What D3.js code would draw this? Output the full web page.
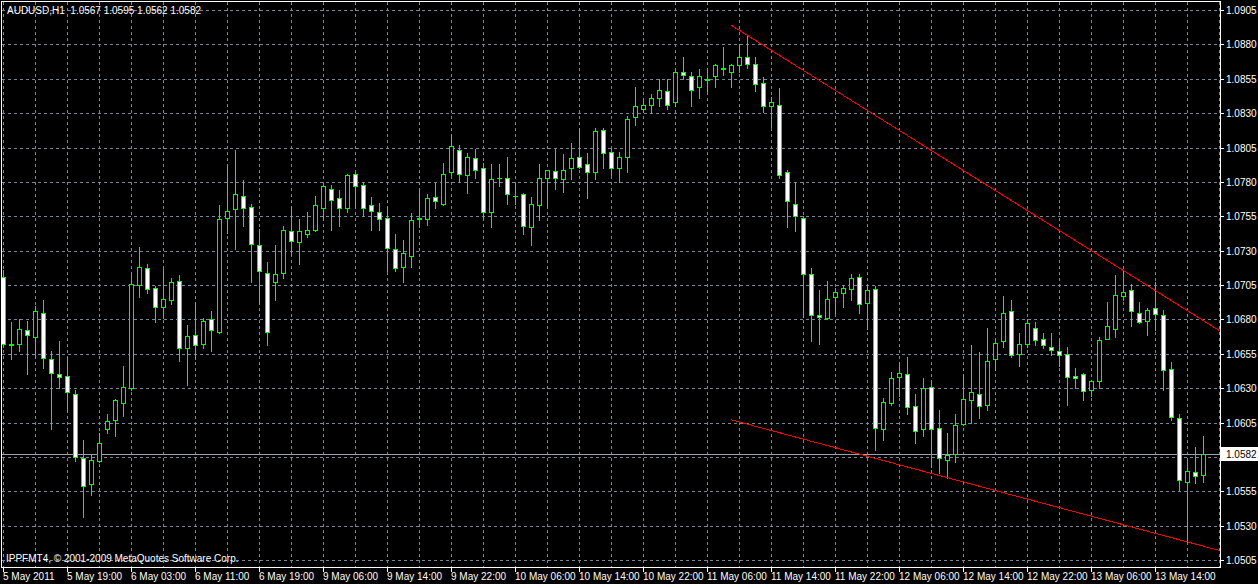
<!DOCTYPE html>
<html><head><meta charset="utf-8">
<script src="https://cdn.jsdelivr.net/npm/d3@7"></script>
<style>html,body{margin:0;padding:0;background:#000;overflow:hidden}svg{display:block}</style>
</head><body>
<script>
const titleText = "AUDUSD,H1  1.0567 1.0595 1.0562 1.0582";
const copyrightText = "IPPFMT4, \u00A9 2001-2009 MetaQuotes Software Corp.";

const opens = [1.0711,1.0662,1.0662,1.0672,1.0667,1.0685,1.0651,1.0640,1.0639,1.0626,
1.0579,1.0560,1.0577,1.0600,1.0607,1.0619,1.0630,1.0705,1.0717,1.0703,
1.0689,1.0694,1.0708,1.0659,1.0669,1.0662,1.0680,1.0671,1.0754,1.0760,
1.0770,1.0762,1.0734,1.0714,1.0707,1.0714,1.0744,1.0736,1.0742,1.0745,
1.0761,1.0775,1.0768,1.0761,1.0786,1.0778,1.0763,1.0758,1.0754,1.0731,
1.0718,1.0726,1.0753,1.0753,1.0769,1.0764,1.0787,1.0803,1.0785,1.0797,
1.0790,1.0758,1.0783,1.0783,1.0770,1.0771,1.0747,1.0763,1.0783,1.0788,
1.0782,1.0790,1.0798,1.0793,1.0787,1.0818,1.0802,1.0790,1.0798,1.0827,
1.0833,1.0836,1.0841,1.0846,1.0838,1.0860,1.0857,1.0849,1.0854,1.0857,
1.0863,1.0860,1.0865,1.0871,1.0866,1.0852,1.0835,1.0836,1.0787,1.0764,
1.0754,1.0713,1.0683,1.0681,1.0696,1.0699,1.0702,1.0711,1.0692,1.0702,
1.0600,1.0619,1.0638,1.0640,1.0617,1.0600,1.0631,1.0601,1.0578,1.0582,
1.0604,1.0621,1.0626,1.0618,1.0651,1.0664,1.0686,1.0655,1.0662,1.0674,
1.0666,1.0660,1.0657,1.0655,1.0639,1.0640,1.0629,1.0635,1.0666,1.0673,
1.0697,1.0701,1.0685,1.0679,1.0688,1.0683,1.0644,1.0608,1.0562,1.0569,
1.0567];
const highs = [1.0716,1.0678,1.0680,1.0679,1.0690,1.0694,1.0657,1.0664,1.0653,1.0629,
1.0592,1.0582,1.0597,1.0611,1.0622,1.0646,1.0714,1.0733,1.0720,1.0704,
1.0718,1.0710,1.0712,1.0676,1.0693,1.0681,1.0686,1.0763,1.0792,1.0803,
1.0781,1.0764,1.0746,1.0722,1.0734,1.0748,1.0762,1.0753,1.0758,1.0770,
1.0778,1.0778,1.0774,1.0786,1.0787,1.0780,1.0769,1.0765,1.0762,1.0742,
1.0738,1.0757,1.0775,1.0771,1.0779,1.0794,1.0815,1.0807,1.0801,1.0804,
1.0794,1.0793,1.0793,1.0798,1.0779,1.0772,1.0769,1.0793,1.0789,1.0804,
1.0800,1.0808,1.0819,1.0801,1.0819,1.0819,1.0804,1.0802,1.0828,1.0849,
1.0841,1.0844,1.0855,1.0855,1.0863,1.0871,1.0860,1.0862,1.0863,1.0866,
1.0878,1.0866,1.0880,1.0887,1.0871,1.0856,1.0842,1.0848,1.0789,1.0780,
1.0755,1.0717,1.0701,1.0708,1.0703,1.0705,1.0713,1.0713,1.0705,1.0704,
1.0623,1.0642,1.0649,1.0653,1.0626,1.0637,1.0636,1.0614,1.0597,1.0611,
1.0640,1.0661,1.0656,1.0674,1.0666,1.0697,1.0694,1.0670,1.0680,1.0678,
1.0670,1.0670,1.0666,1.0660,1.0645,1.0641,1.0636,1.0667,1.0693,1.0712,
1.0715,1.0706,1.0693,1.0688,1.0707,1.0687,1.0649,1.0611,1.0579,1.0587,
1.0595];
const lows = [1.0660,1.0651,1.0657,1.0640,1.0652,1.0645,1.0600,1.0630,1.0613,1.0577,
1.0536,1.0552,1.0576,1.0597,1.0595,1.0610,1.0629,1.0696,1.0699,1.0678,
1.0681,1.0691,1.0650,1.0632,1.0651,1.0659,1.0657,1.0670,1.0743,1.0731,
1.0748,1.0707,1.0691,1.0661,1.0694,1.0710,1.0727,1.0720,1.0740,1.0744,
1.0752,1.0745,1.0748,1.0758,1.0761,1.0755,1.0745,1.0745,1.0715,1.0715,
1.0707,1.0718,1.0747,1.0749,1.0761,1.0763,1.0785,1.0780,1.0772,1.0783,
1.0752,1.0747,1.0777,1.0764,1.0764,1.0742,1.0734,1.0752,1.0761,1.0775,
1.0773,1.0782,1.0790,1.0768,1.0782,1.0790,1.0785,1.0780,1.0787,1.0821,
1.0831,1.0830,1.0835,1.0833,1.0835,1.0855,1.0835,1.0841,1.0846,1.0849,
1.0858,1.0849,1.0860,1.0863,1.0846,1.0831,1.0820,1.0783,1.0747,1.0744,
1.0682,1.0664,1.0662,1.0680,1.0685,1.0689,1.0694,1.0685,1.0673,1.0585,
1.0592,1.0618,1.0624,1.0611,1.0590,1.0595,1.0573,1.0568,1.0565,1.0576,
1.0603,1.0605,1.0608,1.0614,1.0643,1.0660,1.0653,1.0646,1.0660,1.0661,
1.0659,1.0654,1.0646,1.0618,1.0630,1.0621,1.0624,1.0630,1.0666,1.0667,
1.0694,1.0675,1.0677,1.0669,1.0672,1.0629,1.0607,1.0556,1.0518,1.0561,
1.0562];
const closes = [1.0662,1.0661,1.0673,1.0669,1.0686,1.0652,1.0641,1.0638,1.0627,1.0580,
1.0559,1.0578,1.0590,1.0606,1.0621,1.0631,1.0706,1.0718,1.0702,1.0689,
1.0695,1.0707,1.0659,1.0668,1.0661,1.0679,1.0672,1.0753,1.0759,1.0771,
1.0761,1.0735,1.0715,1.0671,1.0713,1.0745,1.0737,1.0744,1.0745,1.0763,
1.0777,1.0767,1.0761,1.0785,1.0777,1.0761,1.0759,1.0753,1.0732,1.0717,
1.0728,1.0752,1.0754,1.0768,1.0766,1.0786,1.0806,1.0786,1.0798,1.0789,
1.0758,1.0782,1.0783,1.0771,1.0770,1.0748,1.0764,1.0783,1.0789,1.0783,
1.0789,1.0797,1.0791,1.0787,1.0817,1.0801,1.0790,1.0798,1.0826,1.0835,
1.0836,1.0841,1.0847,1.0836,1.0860,1.0858,1.0847,1.0857,1.0855,1.0865,
1.0862,1.0865,1.0871,1.0866,1.0851,1.0835,1.0838,1.0785,1.0766,1.0755,
1.0713,1.0683,1.0682,1.0695,1.0700,1.0703,1.0710,1.0691,1.0701,1.0601,
1.0620,1.0637,1.0641,1.0616,1.0599,1.0630,1.0600,1.0579,1.0581,1.0603,
1.0622,1.0627,1.0617,1.0650,1.0663,1.0685,1.0654,1.0662,1.0677,1.0665,
1.0661,1.0658,1.0654,1.0638,1.0637,1.0628,1.0635,1.0665,1.0675,1.0698,
1.0700,1.0686,1.0678,1.0687,1.0684,1.0643,1.0609,1.0563,1.0570,1.0566,
1.0582];

const timeLabelBars = [0,8,16,24,32,40,48,56,64,72,80,88,96,104,112,120,128,136,144];
const timeLabels = ["5 May 2011","5 May 19:00","6 May 03:00","6 May 11:00","6 May 19:00",
"9 May 06:00","9 May 14:00","9 May 22:00","10 May 06:00","10 May 14:00","10 May 22:00",
"11 May 06:00","11 May 14:00","11 May 22:00","12 May 06:00","12 May 14:00","12 May 22:00",
"13 May 06:00","13 May 14:00"];
const priceTicks = [1.0905,1.0880,1.0855,1.0830,1.0805,1.0780,1.0755,1.0730,1.0705,1.0680,
1.0655,1.0630,1.0605,1.0580,1.0555,1.0530,1.0505];
const gridBars = [0,4,8,12,16,20,24,28,32,36,40,44,48,52,56,60,64,68,72,76,80,84,88,92,96,
100,104,108,112,116,120,124,128,132,136,140,144,148,152];
const trendUpper = [[91, 1.0894], [152, 1.0672]];
const trendLower = [[91, 1.0607], [152, 1.0512]];
const lastPrice = 1.0582;

const W = 1258, H = 584;
const P = {left: 2, top: 2, right: 1220, bottom: 567};
const x = d3.scaleLinear().domain([0, 150]).range([3, 1203]);
const y = d3.scaleLinear().domain([1.0505, 1.0905]).range([560, 10]);
const font = "'Liberation Sans', Arial, sans-serif";
const GREEN = "#00ff00", GRID = "#778899";

const svg = d3.select("body").append("svg").attr("width", W).attr("height", H)
  .style("background", "#000");
svg.append("defs").append("clipPath").attr("id", "clip").append("rect")
  .attr("x", P.left).attr("y", P.top).attr("width", P.right - P.left).attr("height", P.bottom - P.top);

const px = v => Math.round(v) + 0.5;

// grid
const grid = svg.append("g").attr("clip-path", "url(#clip)")
  .attr("stroke", GRID).attr("stroke-width", 1).attr("stroke-dasharray", "3,3")
  .attr("shape-rendering", "crispEdges");
grid.selectAll("line.h").data(priceTicks).join("line").attr("class", "h")
  .attr("x1", P.left).attr("x2", P.right).attr("y1", d => px(y(d))).attr("y2", d => px(y(d)));
grid.selectAll("line.v").data(gridBars).join("line").attr("class", "v")
  .attr("y1", P.top).attr("y2", P.bottom).attr("x1", d => px(x(d))).attr("x2", d => px(x(d)));

// last price line
svg.append("line").attr("x1", P.left).attr("x2", P.right)
  .attr("y1", px(y(lastPrice))).attr("y2", px(y(lastPrice)))
  .attr("stroke", "#9aa3ad").attr("shape-rendering", "crispEdges");

// candles
const bars = d3.range(opens.length);
const cg = svg.append("g").attr("clip-path", "url(#clip)").attr("shape-rendering", "crispEdges");
cg.selectAll("line.wick").data(bars).join("line").attr("class", "wick")
  .attr("x1", i => Math.round(x(i)) + 0.5).attr("x2", i => Math.round(x(i)) + 0.5)
  .attr("y1", i => Math.round(y(highs[i]))).attr("y2", i => Math.round(y(lows[i])) + 1)
  .attr("stroke", GREEN);
const bodyTop = i => Math.round(y(Math.max(opens[i], closes[i])));
const bodyBot = i => Math.round(y(Math.min(opens[i], closes[i])));
cg.selectAll("rect.body").data(bars.filter(i => bodyBot(i) - bodyTop(i) >= 1)).join("rect").attr("class", "body")
  .attr("x", i => Math.round(x(i)) - 1.5).attr("width", 4)
  .attr("y", i => bodyTop(i) + 0.5).attr("height", i => bodyBot(i) - bodyTop(i))
  .attr("fill", i => closes[i] < opens[i] ? "#ffffff" : "#000000")
  .attr("stroke", GREEN);
cg.selectAll("line.doji").data(bars.filter(i => bodyBot(i) - bodyTop(i) < 1)).join("line").attr("class", "doji")
  .attr("x1", i => Math.round(x(i)) - 2).attr("x2", i => Math.round(x(i)) + 3)
  .attr("y1", i => bodyTop(i) + 0.5).attr("y2", i => bodyTop(i) + 0.5)
  .attr("stroke", GREEN);

// trend lines (rays to the right)
const tg = svg.append("g").attr("clip-path", "url(#clip)");
[trendUpper, trendLower].forEach(t => {
  tg.append("line")
    .attr("x1", x(t[0][0])).attr("y1", y(t[0][1]))
    .attr("x2", x(t[1][0])).attr("y2", y(t[1][1]))
    .attr("stroke", "#ff0000").attr("stroke-width", 1)
    .attr("shape-rendering", "crispEdges");
});

// frame
svg.append("rect").attr("x", P.left - 0.5).attr("y", P.top - 0.5)
  .attr("width", P.right - P.left + 1).attr("height", P.bottom - P.top + 1)
  .attr("fill", "none").attr("stroke", "#ffffff").attr("shape-rendering", "crispEdges");

// right price axis (the label under the last-price tag is hidden, as in MT4)
const ra = svg.append("g").attr("fill", "#fff").style("font-family", font).style("font-size", "10px");
ra.selectAll("line").data(priceTicks).join("line")
  .attr("x1", P.right).attr("x2", P.right + 4).attr("y1", d => px(y(d))).attr("y2", d => px(y(d)))
  .attr("stroke", "#fff").attr("shape-rendering", "crispEdges");
ra.selectAll("text").data(priceTicks.filter(d => Math.abs(y(d) - y(lastPrice)) > 10)).join("text")
  .attr("x", 1226).attr("y", d => Math.round(y(d)) + 4)
  .text(d => d.toFixed(4));

// last price tag
const ly = Math.round(y(lastPrice));
svg.append("rect").attr("x", 1221).attr("y", ly - 7).attr("width", 37).attr("height", 14).attr("fill", "#fff");
svg.append("text").attr("x", 1226).attr("y", ly + 4).attr("fill", "#000")
  .style("font-family", font).style("font-size", "10px").text(lastPrice.toFixed(4));

// bottom time axis
const ba = svg.append("g").style("font-family", font).style("font-size", "10px");
ba.selectAll("line").data(timeLabelBars).join("line")
  .attr("x1", d => px(x(d))).attr("x2", d => px(x(d))).attr("y1", P.bottom).attr("y2", P.bottom + 5)
  .attr("stroke", "#fff").attr("shape-rendering", "crispEdges");
ba.selectAll("text").data(timeLabelBars).join("text")
  .attr("x", d => Math.round(x(d))).attr("y", 580).attr("fill", "#fff")
  .text((d, k) => timeLabels[k]);

// title and copyright
svg.append("text").attr("x", 7).attr("y", 14).attr("fill", "#fff").attr("xml:space", "preserve")
  .style("font-family", font).style("font-size", "10px").style("white-space", "pre").text(titleText);
svg.append("text").attr("x", 6).attr("y", 562).attr("fill", "#fff")
  .style("font-family", font).style("font-size", "10px").text(copyrightText);
</script>
</body></html>
